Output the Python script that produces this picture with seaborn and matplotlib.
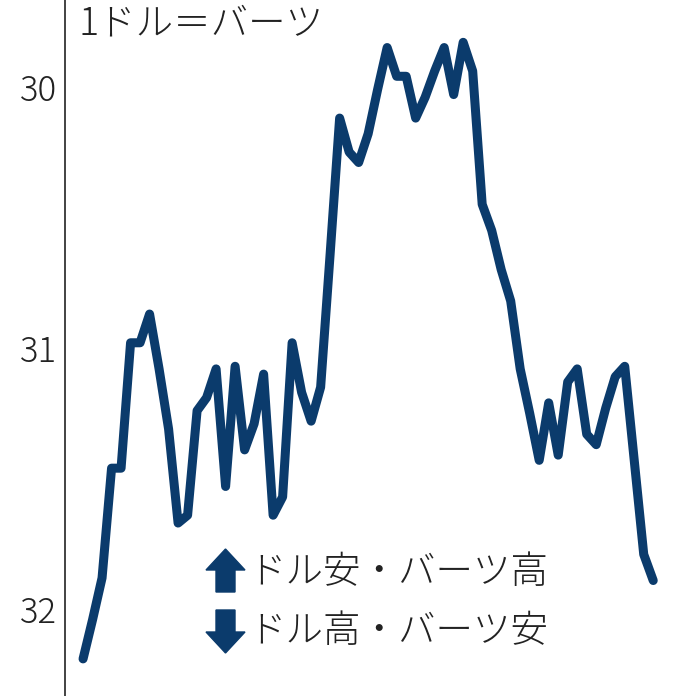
import matplotlib
matplotlib.use('Agg')
import matplotlib.pyplot as plt
from matplotlib.patches import FancyArrow
import numpy as np
import pandas as pd
import seaborn as sns

# 1ドル=バーツ, daily rate (61 points)
rates = [32.19, 32.04, 31.88, 31.46, 31.46, 30.98, 30.98, 30.87, 31.08, 31.31,
         31.67, 31.64, 31.24, 31.19, 31.08, 31.53, 31.07, 31.39, 31.29, 31.10,
         31.64, 31.57, 30.98, 31.17, 31.28, 31.15, 30.64, 30.12, 30.25, 30.29,
         30.18, 30.01, 29.85, 29.96, 29.96, 30.12, 30.04, 29.94, 29.85, 30.03,
         29.83, 29.94, 30.45, 30.55, 30.70, 30.82, 31.08, 31.25, 31.43, 31.21,
         31.41, 31.13, 31.08, 31.33, 31.37, 31.23, 31.11, 31.07, 31.43, 31.79,
         31.89]
day = list(range(len(rates)))
y_ticks = [30, 31, 32]
title = '1ドル＝バーツ'
legend_up = 'ドル安・バーツ高'
legend_down = 'ドル高・バーツ安'

navy = '#0b3b6c'
ink = '#222222'

sns.set_style('white')
plt.rcParams['font.family'] = ['Noto Sans CJK JP', 'DejaVu Sans']

df = pd.DataFrame({'day': day, 'rate': rates})

fig = plt.figure(figsize=(6.96, 6.96), dpi=100)
ax = fig.add_axes([65 / 696, 0, 631 / 696, 1])

sns.lineplot(data=df, x='day', y='rate', ax=ax, color=navy, linewidth=6.5,
             solid_joinstyle='round', solid_capstyle='round')

ax.set_xlim(-1.9, 64.5)
ax.set_ylim(32.332, 29.668)
ax.set_yticks(y_ticks)
ax.set_yticklabels([str(t) for t in y_ticks])
ax.set_xticks([])
ax.set_xlabel('')
ax.set_ylabel('')

for s in ['top', 'right', 'bottom']:
    ax.spines[s].set_visible(False)
ax.spines['left'].set_color(ink)
ax.spines['left'].set_linewidth(1.2)
ax.tick_params(axis='y', direction='in', length=6, width=1.2, color=ink,
               pad=6, labelsize=25, labelcolor=ink)
for lab in ax.get_yticklabels():
    lab.set_fontweight('light')

# unit label, kept just inside the top edge
ax.text(0.021, 1 - 34 / 696, title, transform=ax.transAxes, fontsize=27,
        color=ink, ha='left', va='baseline', fontweight='light')

# legend arrows
def px(x, y):
    return x / 696, 1 - y / 696

x0, y0 = px(225.5, 592)
fig.patches.append(FancyArrow(x0, y0, 0, 43 / 696, width=19 / 696,
                              head_width=39 / 696, head_length=21 / 696,
                              length_includes_head=True, color=navy,
                              transform=fig.transFigure))
x0, y0 = px(225.5, 610)
fig.patches.append(FancyArrow(x0, y0, 0, -43 / 696, width=19 / 696,
                              head_width=39 / 696, head_length=21 / 696,
                              length_includes_head=True, color=navy,
                              transform=fig.transFigure))

tx, ty = px(248, 572)
fig.text(tx, ty, legend_up, fontsize=27, color=ink, ha='left', va='center',
         fontweight='light')
tx, ty = px(248, 631)
fig.text(tx, ty, legend_down, fontsize=27, color=ink, ha='left', va='center',
         fontweight='light')

fig.savefig('out.png', dpi=100)
